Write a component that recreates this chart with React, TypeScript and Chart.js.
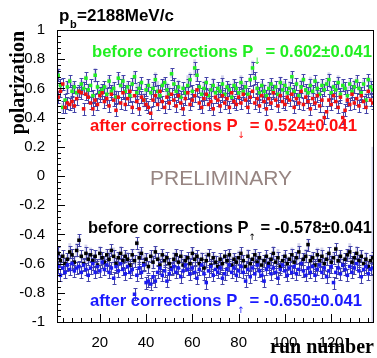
import React, { useEffect, useRef } from "react";
import { Chart, registerables } from "chart.js";

Chart.register(...registerables);

// ---------- data ----------
const FIRST_RUN = 2;
const X_MIN = 1.5;
const X_MAX = 138.5;
const xTicks = [20, 40, 60, 80, 100, 120];
const yTicks = [-1, -0.8, -0.6, -0.4, -0.2, 0, 0.2, 0.4, 0.6, 0.8, 1];
const STAT_ERR = 0.041;

// P(down), before corrections (green)
const downBefore = [
  0.69, 0.62, 0.47, 0.52, 0.61, 0.65, 0.58, 0.61, 0.57, 0.58,
  0.63, 0.60, 0.67, 0.59, 0.62, 0.55, 0.69, 0.61, 0.57, 0.59,
  0.61, 0.56, 0.65, 0.58, 0.60, 0.54, 0.67, 0.62, 0.65, 0.58,
  0.61, 0.55, 0.63, 0.68, 0.57, 0.60, 0.64, 0.52, 0.59, 0.62,
  0.57, 0.60, 0.66, 0.58, 0.55, 0.62, 0.64, 0.59, 0.56, 0.70,
  0.63, 0.58, 0.61, 0.54, 0.60, 0.57, 0.62, 0.66, 0.58, 0.74,
  0.69, 0.61, 0.56, 0.60, 0.64, 0.55, 0.59, 0.62, 0.57, 0.60,
  0.58, 0.63, 0.56, 0.61, 0.59, 0.54, 0.62, 0.60, 0.57, 0.64,
  0.58, 0.61, 0.56, 0.66, 0.74, 0.67, 0.60, 0.57, 0.62, 0.58,
  0.55, 0.60, 0.63, 0.58, 0.61, 0.56, 0.64, 0.59, 0.62, 0.57,
  0.60, 0.68, 0.58, 0.63, 0.55, 0.61, 0.66, 0.59, 0.57, 0.62,
  0.58, 0.65, 0.60, 0.56, 0.62, 0.59, 0.63, 0.66, 0.57, 0.61,
  0.59, 0.64, 0.56, 0.62, 0.60, 0.55, 0.63, 0.58, 0.61, 0.65,
  0.60, 0.57, 0.63, 0.52, 0.66, 0.61, 0.59,
];

// P(down), after corrections (red)
const downAfter = [
  0.54, 0.58, 0.63, 0.47, 0.50, 0.49, 0.51, 0.48, 0.53, 0.58,
  0.57, 0.46, 0.56, 0.54, 0.50, 0.46, 0.52, 0.49, 0.55, 0.57,
  0.51, 0.53, 0.48, 0.56, 0.52, 0.45, 0.54, 0.50, 0.57, 0.49,
  0.53, 0.58, 0.47, 0.55, 0.51, 0.46, 0.54, 0.52, 0.49, 0.47,
  0.43, 0.52, 0.55, 0.49, 0.58, 0.51, 0.47, 0.54, 0.50, 0.56,
  0.52, 0.48, 0.55, 0.50, 0.46, 0.53, 0.57, 0.49, 0.52, 0.55,
  0.59, 0.50, 0.47, 0.53, 0.56, 0.49, 0.51, 0.46, 0.54, 0.52,
  0.48, 0.55, 0.50, 0.53, 0.47, 0.57, 0.51, 0.49, 0.54, 0.50,
  0.56, 0.52, 0.47, 0.54, 0.58, 0.50, 0.53, 0.48, 0.55, 0.51,
  0.46, 0.53, 0.50, 0.57, 0.52, 0.48, 0.55, 0.51, 0.49, 0.54,
  0.52, 0.56, 0.47, 0.53, 0.50, 0.58, 0.49, 0.54, 0.51, 0.46,
  0.53, 0.50, 0.55, 0.48, 0.52, 0.40, 0.44, 0.52, 0.49, 0.55,
  0.51, 0.47, 0.54, 0.40, 0.45, 0.52, 0.49, 0.56, 0.50, 0.53,
  0.48, 0.55, 0.51, 0.47, 0.58, 0.52, 0.50,
];

// P(up), before corrections (black)
const upBefore = [
  -0.53, -0.58, -0.55, -0.60, -0.57, -0.52, -0.54, -0.59, -0.51, -0.44,
  -0.55, -0.60, -0.53, -0.57, -0.54, -0.58, -0.55, -0.61, -0.53, -0.56,
  -0.59, -0.54, -0.57, -0.51, -0.55, -0.60, -0.56, -0.53, -0.58, -0.55,
  -0.57, -0.61, -0.54, -0.58, -0.46, -0.56, -0.53, -0.60, -0.57, -0.62,
  -0.55, -0.59, -0.52, -0.57, -0.61, -0.54, -0.58, -0.56, -0.60, -0.63,
  -0.57, -0.54, -0.59, -0.55, -0.61, -0.58, -0.56, -0.60, -0.53, -0.57,
  -0.55, -0.60, -0.57, -0.63, -0.58, -0.54, -0.61, -0.56, -0.59, -0.62,
  -0.57, -0.60, -0.55, -0.58, -0.54, -0.61, -0.57, -0.59, -0.56, -0.53,
  -0.58, -0.62, -0.55, -0.60, -0.57, -0.54, -0.59, -0.56, -0.61, -0.58,
  -0.55, -0.60, -0.57, -0.53, -0.59, -0.56, -0.62, -0.58, -0.55, -0.60,
  -0.57, -0.54, -0.59, -0.56, -0.52, -0.60, -0.57, -0.55, -0.47, -0.58,
  -0.56, -0.61, -0.54, -0.58, -0.55, -0.60, -0.57, -0.53, -0.59, -0.56,
  -0.50, -0.58, -0.55, -0.61, -0.57, -0.54, -0.52, -0.59, -0.56, -0.53,
  -0.58, -0.55, -0.60, -0.57, -0.62, -0.58, -0.56,
];

// P(up), after corrections (blue)
const upAfter = [
  -0.62, -0.68, -0.63, -0.66, -0.61, -0.64, -0.60, -0.65, -0.63, -0.62,
  -0.66, -0.61, -0.64, -0.68, -0.63, -0.60, -0.66, -0.62, -0.65, -0.59,
  -0.64, -0.61, -0.66, -0.63, -0.70, -0.62, -0.65, -0.60, -0.64, -0.67,
  -0.62, -0.66, -0.64, -0.81, -0.68, -0.63, -0.66, -0.61, -0.73, -0.72,
  -0.74, -0.69, -0.72, -0.66, -0.63, -0.68, -0.65, -0.72, -0.67, -0.64,
  -0.62, -0.66, -0.63, -0.69, -0.65, -0.61, -0.64, -0.67, -0.63, -0.66,
  -0.70, -0.64, -0.61, -0.67, -0.73, -0.65, -0.62, -0.68, -0.64, -0.66,
  -0.63, -0.70, -0.67, -0.64, -0.61, -0.66, -0.63, -0.68, -0.65, -0.62,
  -0.66, -0.72, -0.64, -0.69, -0.63, -0.67, -0.61, -0.65, -0.68, -0.72,
  -0.64, -0.62, -0.67, -0.63, -0.66, -0.70, -0.64, -0.61, -0.65, -0.68,
  -0.63, -0.66, -0.62, -0.67, -0.64, -0.60, -0.65, -0.68, -0.63, -0.66,
  -0.62, -0.68, -0.64, -0.61, -0.66, -0.63, -0.69, -0.65, -0.62, -0.73,
  -0.66, -0.63, -0.67, -0.61, -0.64, -0.68, -0.62, -0.66, -0.63, -0.60,
  -0.65, -0.69, -0.64, -0.62, -0.67, -0.64, -0.63,
];

// systematic half-widths (shaded boxes)
const sysDown = [
  0.05, 0.02, 0.03, 0.01, 0.04, 0.02, 0.06, 0.03, 0.02, 0.04,
  0.03, 0.05, 0.02, 0.04, 0.01, 0.03, 0.05, 0.02, 0.04, 0.03,
  0.02, 0.06, 0.03, 0.02, 0.04, 0.05, 0.03, 0.02, 0.04, 0.01,
  0.03, 0.05, 0.02, 0.04, 0.06, 0.03, 0.02, 0.05, 0.03, 0.04,
  0.02, 0.03, 0.05, 0.07, 0.04, 0.02, 0.03, 0.05, 0.06, 0.03,
  0.04, 0.02, 0.05, 0.03, 0.02, 0.04, 0.07, 0.05, 0.03, 0.06,
  0.04, 0.02, 0.03, 0.05, 0.02, 0.04, 0.03, 0.05, 0.02, 0.03,
  0.04, 0.06, 0.03, 0.02, 0.05, 0.03, 0.04, 0.02, 0.03, 0.05,
  0.06, 0.04, 0.03, 0.02, 0.05, 0.03, 0.02, 0.04, 0.03, 0.05,
  0.02, 0.04, 0.03, 0.05, 0.02, 0.03, 0.04, 0.06, 0.03, 0.02,
  0.05, 0.03, 0.04, 0.02, 0.03, 0.05, 0.02, 0.04, 0.03, 0.06,
  0.04, 0.02, 0.05, 0.03, 0.04, 0.02, 0.03, 0.05, 0.04, 0.02,
  0.03, 0.05, 0.02, 0.04, 0.03, 0.06, 0.03, 0.04, 0.05, 0.03,
  0.02, 0.04, 0.03, 0.05, 0.02, 0.06, 0.04,
];
const sysUp = [
  0.03, 0.05, 0.02, 0.04, 0.03, 0.06, 0.02, 0.04, 0.05, 0.03,
  0.02, 0.04, 0.06, 0.03, 0.05, 0.02, 0.04, 0.03, 0.05, 0.02,
  0.04, 0.03, 0.05, 0.02, 0.06, 0.03, 0.04, 0.05, 0.02, 0.03,
  0.05, 0.02, 0.04, 0.03, 0.02, 0.05, 0.03, 0.06, 0.04, 0.02,
  0.03, 0.05, 0.04, 0.02, 0.06, 0.03, 0.05, 0.02, 0.04, 0.03,
  0.05, 0.03, 0.02, 0.04, 0.06, 0.03, 0.02, 0.05, 0.04, 0.03,
  0.02, 0.04, 0.05, 0.03, 0.06, 0.02, 0.04, 0.03, 0.05, 0.02,
  0.03, 0.05, 0.02, 0.04, 0.03, 0.06, 0.04, 0.02, 0.05, 0.03,
  0.04, 0.02, 0.05, 0.03, 0.02, 0.04, 0.06, 0.03, 0.05, 0.02,
  0.03, 0.04, 0.02, 0.05, 0.03, 0.06, 0.02, 0.04, 0.03, 0.05,
  0.02, 0.05, 0.03, 0.04, 0.06, 0.02, 0.03, 0.05, 0.04, 0.02,
  0.04, 0.03, 0.05, 0.02, 0.06, 0.03, 0.04, 0.02, 0.05, 0.03,
  0.02, 0.04, 0.03, 0.05, 0.02, 0.04, 0.06, 0.03, 0.02, 0.05,
  0.03, 0.04, 0.02, 0.05, 0.03, 0.04, 0.76,
];

const labels = {
  title: "=2188MeV/c",
  downBefore: ["before corrections P", "\u2193", " = 0.602\u00b10.041"],
  downAfter: ["after corrections P", "\u2193", " = 0.524\u00b10.041"],
  upBefore: ["before corrections P", "\u2191", " = -0.578\u00b10.041"],
  upAfter: ["after corrections P", "\u2191", " = -0.650\u00b10.041"],
};

// ---------- styles ----------
const SANS = '"Liberation Sans", Arial, Helvetica, sans-serif';
const SERIF = '"Liberation Serif", "Times New Roman", serif';
const C_GREEN = "#22ee22";
const C_RED = "#f01010";
const C_BLUE = "#1a1af0";
const C_BLACK = "#000000";
const C_ERR = "#4343a8";
const C_BOX = "rgba(150,150,210,0.42)";
const BOX_HALF = 0.6;

const toPoints = (vals: number[]) =>
  vals.map((v, i) => ({ x: FIRST_RUN + i, y: v }));

const errPlugin = {
  id: "errs",
  beforeDatasetsDraw(chart: any) {
    const { ctx, chartArea: a, scales } = chart;
    const x = scales.x, y = scales.y;
    ctx.save();
    ctx.beginPath();
    ctx.rect(a.left, a.top, a.right - a.left, a.bottom - a.top);
    ctx.clip();
    ctx.fillStyle = C_BOX;
    chart.data.datasets.forEach((ds: any) => {
      if (!ds.sys) return;
      ds.data.forEach((p: any, i: number) => {
        const x0 = x.getPixelForValue(p.x - BOX_HALF);
        const x1 = x.getPixelForValue(p.x + BOX_HALF);
        const y0 = y.getPixelForValue(p.y + ds.sys[i]);
        const y1 = y.getPixelForValue(p.y - ds.sys[i]);
        ctx.fillRect(x0, y0, x1 - x0, y1 - y0);
      });
    });
    ctx.strokeStyle = C_ERR;
    ctx.lineWidth = 1;
    chart.data.datasets.forEach((ds: any) => {
      ds.data.forEach((p: any) => {
        const px = Math.round(x.getPixelForValue(p.x)) + 0.5;
        const y0 = Math.round(y.getPixelForValue(p.y + STAT_ERR)) + 0.5;
        const y1 = Math.round(y.getPixelForValue(p.y - STAT_ERR)) + 0.5;
        ctx.beginPath();
        ctx.moveTo(px, y0);
        ctx.lineTo(px, y1);
        ctx.moveTo(px - 2, y0);
        ctx.lineTo(px + 2, y0);
        ctx.moveTo(px - 2, y1);
        ctx.lineTo(px + 2, y1);
        ctx.stroke();
      });
    });
    ctx.restore();
  },
};

function drawSubLabel(ctx: CanvasRenderingContext2D, x: number, xEnd: number, yb: number, parts: string[], color: string) {
  const measure = (size: number) => {
    ctx.font = `bold ${size}px ${SANS}`;
    let w = ctx.measureText(parts[0]).width + ctx.measureText(parts[2]).width;
    ctx.font = `9px "DejaVu Sans", sans-serif`;
    w += ctx.measureText(parts[1]).width;
    return w;
  };
  const base = 17;
  const size = base * (xEnd - x) / measure(base);
  ctx.fillStyle = color;
  ctx.textAlign = "left";
  ctx.textBaseline = "alphabetic";
  ctx.font = `bold ${size}px ${SANS}`;
  ctx.fillText(parts[0], x, yb);
  let cx = x + ctx.measureText(parts[0]).width;
  ctx.font = `9px "DejaVu Sans", sans-serif`;
  ctx.fillText(parts[1], cx, yb + 7);
  cx += ctx.measureText(parts[1]).width;
  ctx.font = `bold ${size}px ${SANS}`;
  ctx.fillText(parts[2], cx, yb);
}

const framePlugin = {
  id: "frame",
  afterDraw(chart: any) {
    const { ctx, chartArea: a, scales } = chart;
    const x = scales.x, y = scales.y;
    ctx.save();
    // frame
    ctx.strokeStyle = "#000";
    ctx.lineWidth = 1;
    ctx.strokeRect(Math.round(a.left) + 0.5, Math.round(a.top) + 0.5, Math.round(a.right - a.left) - 1, Math.round(a.bottom - a.top));
    // inward ticks
    ctx.beginPath();
    for (let v = -1; v <= 1.0001; v += 0.04) {
      const vv = Math.round(v * 100) / 100;
      const major = Math.abs(vv * 5 - Math.round(vv * 5)) < 1e-6;
      const py = Math.round(y.getPixelForValue(vv)) + 0.5;
      ctx.moveTo(a.left, py);
      ctx.lineTo(a.left + (major ? 8 : 4), py);
    }
    for (let v = 4; v <= 138; v += 4) {
      const major = v % 20 === 0;
      const px = Math.round(x.getPixelForValue(v)) + 0.5;
      ctx.moveTo(px, a.bottom);
      ctx.lineTo(px, a.bottom - (major ? 8 : 4));
    }
    ctx.stroke();

    // title
    ctx.fillStyle = "#000";
    ctx.textAlign = "left";
    ctx.textBaseline = "alphabetic";
    ctx.font = `bold 17px ${SANS}`;
    ctx.fillText("p", 59, 21);
    ctx.font = `bold 11px ${SANS}`;
    ctx.fillText("b", 70, 28);
    ctx.font = `bold 17px ${SANS}`;
    ctx.fillText(labels.title, 77, 21);

    // axis titles
    ctx.font = `bold 20px ${SERIF}`;
    ctx.textAlign = "right";
    ctx.fillText("run number", 374, 353);
    ctx.save();
    ctx.translate(24, 31);
    ctx.rotate(-Math.PI / 2);
    ctx.textAlign = "right";
    ctx.fillText("polarization", 0, 0);
    ctx.restore();

    // annotations
    drawSubLabel(ctx, 92, 372, 57, labels.downBefore, C_GREEN);
    drawSubLabel(ctx, 90, 357, 131, labels.downAfter, "#ff1010");
    drawSubLabel(ctx, 88, 372, 233, labels.upBefore, "#000");
    drawSubLabel(ctx, 90, 362, 306, labels.upAfter, "#1a1aff");

    ctx.fillStyle = "#978582";
    ctx.font = `21px ${SANS}`;
    ctx.textAlign = "left";
    ctx.fillText("PRELIMINARY", 150, 185);
    ctx.restore();
  },
};

export default function App() {
  const ref = useRef<HTMLCanvasElement | null>(null);
  useEffect(() => {
    if (!ref.current) return;
    const chart = new Chart(ref.current, {
      type: "scatter",
      data: {
        datasets: [
          { label: "after P down", data: toPoints(downAfter), backgroundColor: C_RED } as any,
          { label: "before P down", data: toPoints(downBefore), backgroundColor: C_GREEN, sys: sysDown } as any,
          { label: "after P up", data: toPoints(upAfter), backgroundColor: C_BLUE } as any,
          { label: "before P up", data: toPoints(upBefore), backgroundColor: C_BLACK, sys: sysUp } as any,
        ],
      },
      options: {
        responsive: false,
        animation: false,
        devicePixelRatio: 1,
        layout: { padding: { left: 0, top: 30, right: 3, bottom: 0 } },
        elements: { point: { pointStyle: "rect", radius: 2.5, borderWidth: 0, hoverRadius: 2.5 } },
        plugins: { legend: { display: false }, tooltip: { enabled: false } },
        scales: {
          x: {
            type: "linear",
            min: X_MIN,
            max: X_MAX,
            afterBuildTicks: (s: any) => { s.ticks = xTicks.map((v) => ({ value: v })); },
            afterFit: (s: any) => { s.height = 36; },
            grid: { display: false },
            border: { display: false },
            ticks: { color: "#000", padding: 4, maxRotation: 0, autoSkip: false, font: { family: SANS, size: 15 } },
          },
          y: {
            type: "linear",
            min: -1,
            max: 1,
            afterBuildTicks: (s: any) => { s.ticks = yTicks.map((v) => ({ value: v })); },
            afterFit: (s: any) => { s.width = 57; },
            grid: { display: false },
            border: { display: false },
            ticks: {
              color: "#000",
              padding: 4,
              autoSkip: false,
              font: { family: SANS, size: 15 },
              callback: (v: any) => String(Math.round(Number(v) * 10) / 10),
            },
          },
        },
      },
      plugins: [errPlugin, framePlugin],
    });
    return () => chart.destroy();
  }, []);
  return (
    <div style={{ position: "fixed", left: 0, top: 0, width: 377, height: 358, background: "#fff" }}>
      <canvas ref={ref} width={377} height={358} style={{ display: "block" }} />
    </div>
  );
}
